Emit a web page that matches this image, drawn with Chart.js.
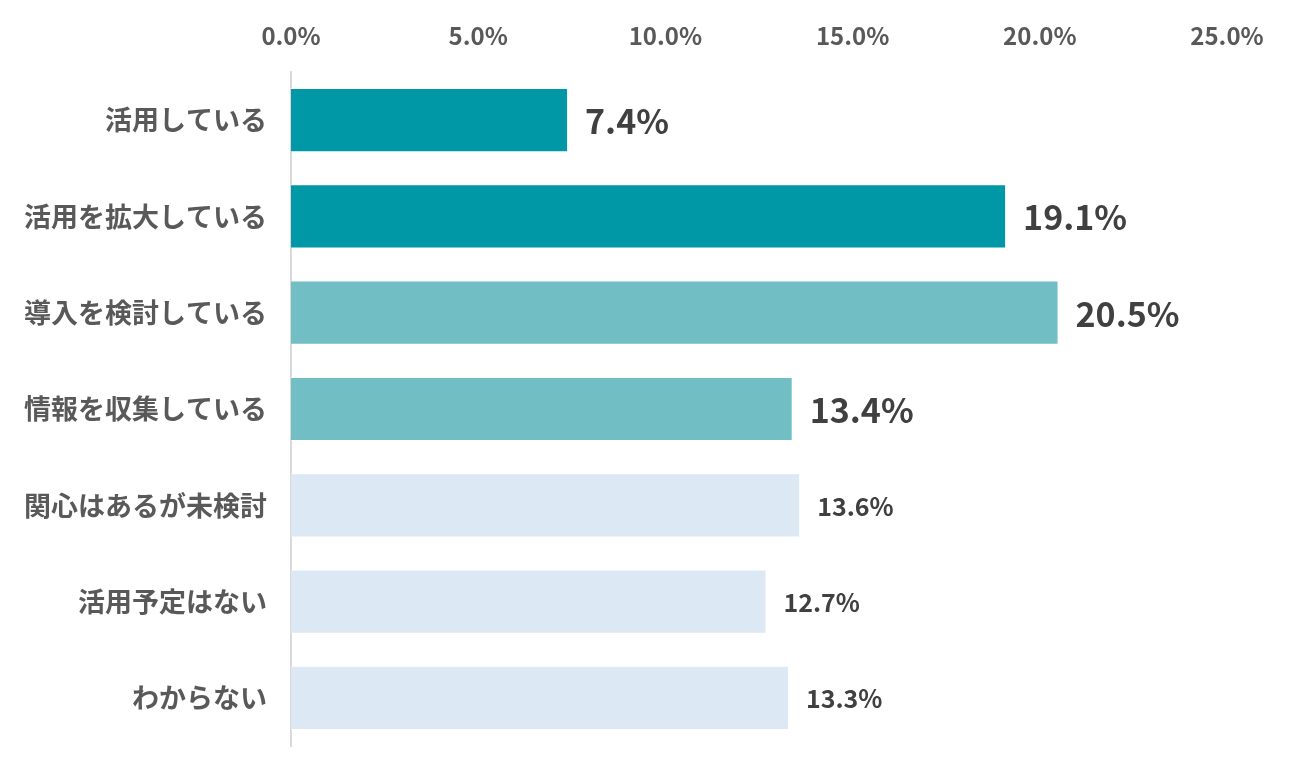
<!DOCTYPE html>
<html>
<head>
<meta charset="utf-8">
<script src="https://cdn.jsdelivr.net/npm/chart.js@4"></script>
<style>
html,body{margin:0;padding:0;background:#fff;}
#wrap{width:1300px;height:780px;position:relative;}
</style>
</head>
<body>
<div id="wrap"><canvas id="c" width="1300" height="780"></canvas></div>
<script>
const categories = ['活用している','活用を拡大している','導入を検討している','情報を収集している','関心はあるが未検討','活用予定はない','わからない'];
const values = [7.4, 19.1, 20.5, 13.4, 13.6, 12.7, 13.3];
const tickValues = [0, 5, 10, 15, 20, 25];

const barColors = ['#0097A7','#0097A7','#71BEC4','#71BEC4','#DCE9F5','#DCE9F5','#DCE9F5'];
const labelSizes = [34,34,34,34,25,25,25];
const FONT = '"Noto Sans CJK JP", "Noto Sans", sans-serif';

const valueLabels = {
  id: 'valueLabels',
  afterDatasetsDraw(chart) {
    const ctx = chart.ctx;
    const meta = chart.getDatasetMeta(0);
    ctx.save();
    ctx.textAlign = 'left';
    ctx.textBaseline = 'middle';
    ctx.fillStyle = '#404040';
    meta.data.forEach((bar, i) => {
      ctx.font = 'bold ' + labelSizes[i] + 'px ' + FONT;
      ctx.fillText(values[i].toFixed(1) + '%', bar.x + 17, bar.y + 1);
    });
    ctx.restore();
  }
};

new Chart(document.getElementById('c'), {
  type: 'bar',
  data: {
    labels: categories,
    datasets: [{
      data: values,
      backgroundColor: barColors,
      borderColor: 'rgba(255,255,255,0.6)',
      borderWidth: 1,
      barPercentage: 0.667,
      categoryPercentage: 1.0
    }]
  },
  options: {
    indexAxis: 'y',
    responsive: false,
    animation: false,
    devicePixelRatio: 1,
    layout: { padding: { left: 0, right: 73, top: 0, bottom: 34 } },
    plugins: { legend: { display: false }, tooltip: { enabled: false } },
    scales: {
      x: {
        position: 'top',
        min: 0, max: 25,
        afterBuildTicks(scale) { scale.ticks = tickValues.map(v => ({ value: v })); },
        afterFit(scale) { scale.height = 72; },
        grid: { display: false, drawTicks: false },
        border: { display: false },
        ticks: {
          padding: 22,
          color: '#595959',
          font: { family: FONT, size: 24, weight: 'bold' },
          callback: v => Number(v).toFixed(1) + '%'
        }
      },
      y: {
        afterFit(scale) { scale.width = 291; scale.paddingTop = 0; scale.paddingBottom = 0; },
        grid: { display: false, drawTicks: false },
        border: { display: true, color: '#D9D9D9', width: 2 },
        ticks: {
          padding: 24,
          color: '#595959',
          font: { family: FONT, size: 27, weight: 'bold' }
        }
      }
    }
  },
  plugins: [valueLabels]
});
</script>
</body>
</html>
